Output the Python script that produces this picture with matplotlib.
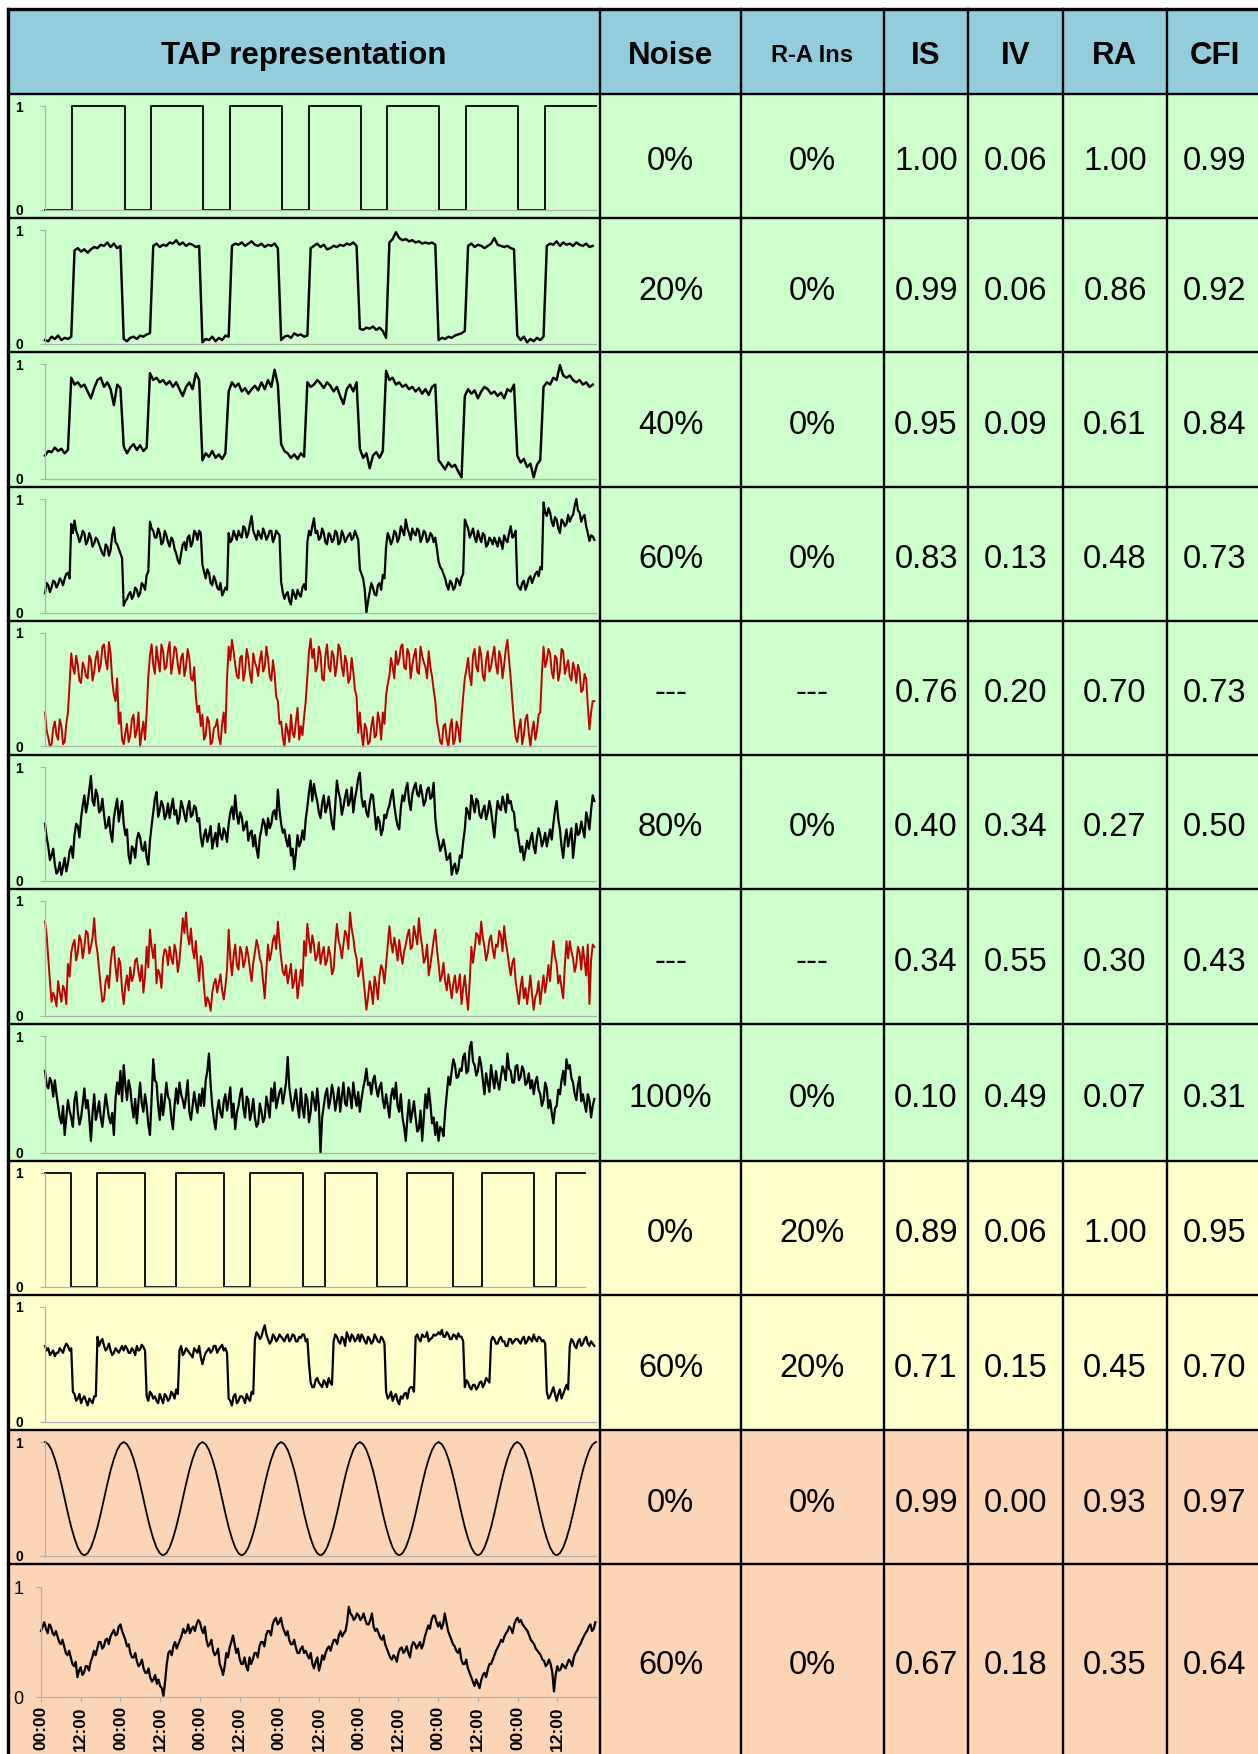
import numpy as np
import matplotlib
matplotlib.use("Agg")
import matplotlib.pyplot as plt
from matplotlib.patches import Rectangle
from matplotlib.lines import Line2D

plt.rcParams['font.family'] = ['Liberation Sans', 'DejaVu Sans']

# Table values
headers = ["TAP representation", "Noise", "R-A Ins", "IS", "IV", "RA", "CFI"]
noise = ["0%", "20%", "40%", "60%", "---", "80%", "---", "100%", "0%", "60%", "0%", "60%"]
ra_ins = ["0%", "0%", "0%", "0%", "---", "0%", "---", "0%", "20%", "20%", "0%", "0%"]
is_vals = [1.00, 0.99, 0.95, 0.83, 0.76, 0.40, 0.34, 0.10, 0.89, 0.71, 0.99, 0.67]
iv_vals = [0.06, 0.06, 0.09, 0.13, 0.20, 0.34, 0.55, 0.49, 0.06, 0.15, 0.00, 0.18]
ra_vals = [1.00, 0.86, 0.61, 0.48, 0.70, 0.27, 0.30, 0.07, 1.00, 0.45, 0.93, 0.35]
cfi_vals = [0.99, 0.92, 0.84, 0.73, 0.73, 0.50, 0.43, 0.31, 0.95, 0.70, 0.97, 0.64]
row_group = ["g", "g", "g", "g", "g", "g", "g", "g", "y", "y", "o", "o"]

# Traces: x in hours over 7 days
square_t = [0, 8.3, 24.3, 32.4, 48.3, 56.4, 72.2, 80.5, 96.3, 104.3, 120.0, 128.5, 144.3, 152.4, 168]
square_v = [0, 1, 0, 1, 0, 1, 0, 1, 0, 1, 0, 1, 0, 1, 1]
ra_square_t = [0, 7.9, 15.8, 30.6, 39.8, 54.6, 62.4, 78.7, 85.5, 101.3, 110.3, 124.5, 133.3, 149.1, 155.9, 164.5]
ra_square_v = [1, 0, 1, 0, 1, 0, 1, 0, 1, 0, 1, 0, 1, 0, 1, 1]
cosine_day = [1.00, 0.98, 0.93, 0.85, 0.75, 0.63, 0.50, 0.37, 0.25, 0.15, 0.07, 0.02,
              0.00, 0.02, 0.07, 0.15, 0.25, 0.37, 0.50, 0.63, 0.75, 0.85, 0.93, 0.98]

# hourly samples (and half-hour samples where the trace is dense), percent of max
trace_n20 = [3, 2, 6, 4, 7, 3, 5, 4, 6, 82, 84, 81, 83, 80, 83, 85, 84, 87, 86, 89, 85, 88, 84, 86,
             4, 2, 5, 6, 4, 7, 6, 8, 9, 86, 88, 85, 87, 86, 89, 88, 91, 87, 89, 86, 88, 87, 85, 86,
             1, 4, 3, 6, 2, 5, 3, 7, 6, 86, 88, 87, 89, 86, 88, 90, 87, 86, 88, 85, 87, 86, 88, 84,
             3, 6, 7, 5, 9, 7, 8, 6, 7, 84, 86, 88, 85, 87, 83, 84, 86, 85, 87, 86, 88, 87, 89, 86,
             13, 12, 14, 13, 15, 12, 14, 11, 5, 89, 92, 98, 93, 91, 92, 90, 91, 89, 90, 88, 89, 88, 89, 87,
             3, 5, 4, 6, 5, 7, 8, 9, 11, 86, 88, 85, 87, 86, 84, 86, 88, 93, 87, 86, 85, 86, 84, 83,
             7, 3, 6, 1, 4, 2, 5, 3, 6, 86, 88, 87, 90, 86, 89, 87, 88, 86, 89, 87, 86, 88, 85, 86]
trace_n40 = [20, 24, 23, 27, 24, 26, 22, 25, 88, 82, 84, 80, 82, 76, 70, 79, 86, 88, 80, 84, 78, 64, 82, 79,
             28, 22, 27, 30, 25, 29, 24, 27, 92, 86, 88, 84, 86, 82, 85, 80, 84, 78, 72, 80, 84, 78, 92, 86,
             16, 22, 19, 24, 18, 21, 17, 22, 76, 84, 80, 83, 76, 79, 74, 78, 81, 77, 84, 78, 86, 80, 95, 82,
             30, 24, 22, 18, 21, 17, 22, 19, 84, 80, 82, 86, 83, 79, 84, 81, 76, 80, 72, 65, 78, 82, 76, 84,
             26, 18, 22, 9, 20, 23, 18, 24, 94, 86, 88, 82, 84, 80, 82, 78, 80, 76, 79, 74, 78, 73, 80, 82,
             16, 12, 8, 14, 10, 12, 6, 1, 72, 78, 74, 77, 70, 76, 80, 78, 74, 76, 72, 75, 70, 78, 76, 82,
             20, 14, 17, 10, 13, 1, 12, 16, 80, 84, 82, 88, 86, 99, 90, 88, 90, 86, 84, 86, 82, 84, 80, 82]
trace_n60 = [17, 24, 22, 27, 25, 28, 30, 35, 78, 81, 68, 66, 70, 63, 66, 61, 64, 56, 50, 58, 55, 75, 60, 52,
             6, 12, 18, 15, 20, 17, 24, 33, 80, 72, 66, 70, 62, 68, 58, 64, 52, 43, 60, 55, 68, 62, 70, 72,
             42, 30, 35, 24, 28, 20, 15, 22, 70, 64, 68, 72, 66, 74, 70, 85, 68, 72, 65, 70, 67, 72, 66, 70,
             27, 12, 18, 7, 16, 20, 14, 25, 62, 68, 83, 72, 66, 70, 60, 68, 64, 70, 62, 68, 65, 70, 66, 68,
             38, 30, 0, 18, 22, 15, 26, 33, 58, 66, 64, 70, 66, 72, 82, 70, 74, 68, 72, 66, 70, 64, 68, 66,
             45, 38, 30, 20, 26, 22, 28, 31, 82, 74, 70, 66, 72, 62, 68, 60, 64, 66, 58, 62, 68, 62, 76, 68,
             25, 20, 28, 24, 32, 30, 36, 40, 97, 85, 88, 76, 82, 70, 80, 78, 80, 86, 100, 88, 84, 76, 63, 67]
trace_n60_half = [26, 18, 28, 22, 30, 24, 34, 30, 70, 72, 62, 72, 60, 70, 58, 66, 60, 52, 60, 50, 68, 62, 56, 48,
                  10, 16, 12, 22, 14, 26, 20, 36, 74, 66, 74, 60, 72, 62, 66, 56, 46, 52, 62, 66, 58, 72, 64, 70,
                  36, 38, 26, 32, 22, 26, 18, 20, 62, 72, 64, 68, 76, 66, 78, 72, 64, 68, 74, 64, 72, 62, 72, 68,
                  18, 16, 10, 20, 12, 16, 22, 20, 72, 76, 70, 64, 74, 62, 70, 62, 72, 60, 72, 62, 68, 64, 72, 64,
                  34, 20, 10, 26, 16, 24, 20, 30, 70, 60, 72, 62, 76, 68, 74, 64, 70, 74, 62, 72, 62, 70, 62, 56,
                  40, 34, 24, 28, 20, 30, 24, 34, 78, 66, 74, 62, 66, 70, 58, 66, 60, 62, 66, 56, 64, 70, 66, 72,
                  22, 26, 20, 30, 26, 34, 32, 38, 88, 92, 80, 84, 74, 82, 76, 86, 84, 94, 90, 80, 86, 70, 68, 64]
trace_red1 = [30, 8, 2, 22, 6, 18, 4, 30, 82, 64, 72, 56, 70, 60, 76, 66, 84, 72, 90, 68, 82, 46, 60, 30,
              2, 20, 10, 28, 14, 0, 22, 30, 80, 72, 88, 66, 84, 70, 92, 74, 86, 64, 82, 70, 78, 58, 44, 36,
              28, 10, 22, 4, 18, 8, 20, 12, 88, 94, 72, 60, 80, 66, 78, 56, 74, 62, 84, 70, 78, 58, 64, 40,
              22, 0, 14, 28, 8, 34, 18, 26, 62, 95, 86, 70, 82, 58, 90, 66, 80, 72, 86, 62, 74, 60, 66, 44,
              30, 0, 16, 4, 26, 10, 22, 30, 45, 62, 70, 84, 76, 90, 68, 82, 72, 86, 64, 80, 70, 84, 62, 40,
              14, 2, 20, 0, 24, 6, 16, 26, 60, 78, 54, 86, 66, 80, 58, 84, 70, 88, 64, 78, 72, 94, 60, 22,
              4, 24, 10, 28, 0, 22, 14, 30, 88, 76, 82, 60, 78, 66, 84, 70, 62, 74, 56, 66, 50, 60, 15, 40]
trace_red1_half = [14, 0, 16, 10, 24, 2, 20, 55, 70, 80, 58, 74, 62, 80, 58, 78, 66, 88, 76, 92, 58, 40, 20, 6,
                   12, 4, 24, 8, 30, 12, 6, 62, 90, 64, 76, 90, 68, 84, 64, 88, 72, 78, 62, 86, 60, 70, 30, 18,
                   6, 26, 2, 16, 24, 2, 30, 60, 76, 84, 62, 78, 58, 86, 64, 82, 70, 76, 66, 88, 62, 76, 44, 20,
                   8, 20, 4, 12, 22, 6, 10, 40, 84, 78, 66, 88, 60, 80, 70, 84, 62, 90, 70, 80, 56, 78, 50, 12,
                   12, 20, 2, 18, 8, 30, 6, 20, 55, 78, 60, 72, 88, 70, 86, 60, 80, 66, 88, 74, 60, 70, 50, 22,
                   4, 18, 6, 16, 2, 22, 4, 44, 68, 62, 80, 70, 88, 62, 76, 66, 80, 72, 84, 60, 86, 76, 40, 8,
                   16, 2, 24, 12, 14, 6, 28, 64, 70, 86, 66, 80, 58, 86, 64, 76, 58, 68, 72, 48, 64, 36, 30, 40]
trace_n80 = [50, 30, 22, 14, 8, 5, 20, 15, 30, 40, 48, 55, 75, 68, 92, 66, 75, 62, 58, 48, 42, 55, 72, 62,
             50, 45, 15, 28, 36, 38, 26, 20, 35, 60, 78, 62, 66, 58, 55, 72, 62, 55, 65, 52, 70, 58, 64, 55,
             30, 45, 40, 28, 42, 50, 36, 42, 50, 65, 75, 50, 56, 48, 35, 44, 40, 20, 45, 50, 55, 50, 62, 80,
             50, 45, 30, 22, 10, 40, 34, 36, 65, 88, 85, 70, 55, 75, 65, 62, 45, 88, 72, 65, 80, 70, 60, 80,
             95, 65, 60, 68, 75, 45, 52, 45, 55, 66, 80, 56, 45, 75, 80, 70, 76, 86, 74, 76, 70, 82, 74, 55,
             35, 30, 28, 20, 5, 15, 10, 20, 45, 60, 75, 60, 70, 55, 66, 60, 62, 38, 70, 62, 68, 76, 70, 60,
             45, 25, 18, 35, 36, 30, 38, 40, 35, 30, 45, 50, 70, 45, 20, 45, 38, 20, 50, 42, 45, 60, 45, 75]
trace_n80_half = [38, 18, 28, 6, 16, 12, 8, 26, 20, 50, 38, 66, 60, 80, 70, 80, 60, 72, 46, 56, 34, 64, 52, 70,
                  40, 22, 30, 20, 42, 28, 34, 14, 48, 72, 56, 70, 54, 68, 64, 58, 50, 70, 58, 64, 56, 66, 52, 38,
                  40, 34, 48, 36, 30, 40, 46, 34, 60, 54, 58, 60, 44, 52, 42, 30, 28, 38, 54, 40, 46, 60, 54, 62,
                  42, 36, 40, 28, 24, 30, 44, 54, 78, 70, 76, 60, 68, 60, 74, 50, 66, 78, 58, 74, 66, 82, 72, 90,
                  74, 70, 56, 76, 60, 56, 40, 58, 62, 74, 66, 48, 64, 70, 86, 62, 82, 76, 84, 66, 80, 72, 86, 42,
                  26, 36, 18, 24, 12, 6, 22, 34, 64, 54, 68, 72, 58, 62, 54, 70, 50, 56, 64, 74, 60, 68, 62, 44,
                  34, 30, 26, 28, 42, 24, 46, 30, 42, 38, 36, 62, 54, 30, 36, 30, 46, 34, 40, 52, 38, 54, 62, 70]
trace_red2 = [82, 50, 12, 16, 30, 12, 22, 45, 55, 66, 55, 65, 60, 72, 60, 85, 55, 25, 14, 35, 45, 60, 30, 45,
              10, 35, 42, 35, 50, 30, 20, 60, 75, 50, 28, 36, 50, 56, 60, 45, 55, 48, 85, 90, 62, 58, 65, 30,
              45, 8, 12, 20, 32, 28, 22, 25, 75, 35, 62, 40, 55, 48, 52, 30, 55, 60, 45, 15, 62, 55, 70, 82,
              50, 35, 28, 45, 30, 15, 40, 65, 80, 55, 62, 52, 45, 60, 48, 52, 40, 80, 60, 62, 70, 90, 68, 50,
              40, 35, 5, 30, 10, 26, 35, 40, 45, 78, 55, 60, 66, 45, 62, 75, 60, 70, 85, 60, 50, 35, 55, 75,
              45, 35, 30, 36, 15, 35, 25, 10, 35, 5, 60, 58, 70, 82, 60, 55, 70, 50, 60, 70, 78, 55, 35, 50,
              20, 25, 15, 10, 35, 5, 20, 10, 35, 30, 30, 65, 45, 35, 15, 65, 65, 50, 45, 55, 60, 35, 10, 62]
trace_red2_half = [70, 30, 20, 8, 20, 26, 10, 34, 62, 48, 70, 50, 74, 54, 68, 64, 40, 12, 30, 24, 58, 42, 50, 22,
                   26, 22, 30, 48, 38, 44, 34, 42, 60, 62, 40, 24, 58, 44, 50, 62, 38, 66, 72, 70, 76, 50, 44, 52,
                   24, 16, 4, 28, 20, 36, 14, 40, 50, 52, 44, 60, 42, 60, 40, 46, 66, 50, 30, 40, 48, 66, 58, 64,
                   38, 44, 36, 24, 40, 28, 26, 52, 66, 70, 48, 64, 54, 44, 60, 36, 62, 66, 50, 74, 58, 76, 56, 34,
                   50, 20, 16, 22, 34, 14, 44, 28, 62, 64, 68, 48, 54, 56, 70, 58, 78, 62, 70, 46, 62, 44, 66, 58,
                   30, 46, 22, 26, 28, 20, 36, 24, 18, 30, 46, 72, 62, 68, 48, 66, 58, 62, 74, 56, 64, 44, 46, 30,
                   10, 34, 24, 22, 18, 16, 30, 24, 20, 44, 50, 52, 28, 24, 44, 50, 56, 38, 60, 40, 48, 62, 48, 60]
trace_n100 = [70, 55, 60, 62, 40, 25, 15, 45, 30, 45, 35, 30, 55, 45, 10, 50, 35, 30, 36, 40, 25, 15, 60, 70,
              75, 45, 55, 30, 25, 60, 35, 40, 15, 80, 60, 28, 32, 60, 45, 20, 55, 60, 45, 48, 35, 40, 42, 50,
              55, 62, 85, 40, 20, 45, 30, 50, 45, 30, 20, 40, 55, 30, 45, 35, 30, 25, 35, 30, 40, 55, 60, 45,
              55, 50, 82, 45, 45, 40, 55, 30, 45, 35, 45, 55, 0, 40, 55, 45, 50, 45, 35, 60, 40, 50, 60, 40,
              35, 55, 72, 60, 62, 55, 56, 45, 50, 30, 55, 60, 35, 30, 10, 45, 35, 30, 20, 10, 50, 55, 25, 15,
              10, 20, 35, 65, 70, 75, 65, 70, 85, 70, 95, 75, 70, 75, 50, 60, 75, 55, 60, 65, 70, 85, 70, 60,
              75, 65, 70, 60, 55, 50, 65, 50, 45, 55, 45, 25, 40, 50, 70, 80, 75, 60, 45, 65, 50, 35, 45, 40]
trace_n100_half = [58, 64, 48, 50, 30, 40, 30, 36, 22, 52, 24, 42, 38, 30, 34, 28, 44, 22, 50, 30, 34, 46, 50, 44,
                   58, 62, 40, 46, 44, 42, 50, 24, 46, 62, 40, 50, 44, 48, 30, 40, 42, 50, 38, 62, 28, 52, 34, 40,
                   40, 70, 58, 28, 36, 34, 44, 36, 56, 42, 34, 50, 38, 48, 28, 46, 22, 42, 26, 48, 30, 44, 38, 52,
                   42, 60, 56, 36, 54, 30, 38, 50, 26, 52, 36, 40, 30, 50, 38, 58, 36, 56, 48, 42, 56, 38, 48, 52,
                   46, 62, 58, 50, 66, 48, 60, 38, 40, 48, 46, 40, 50, 22, 30, 26, 44, 18, 36, 30, 38, 42, 30, 26,
                   22, 14, 50, 58, 80, 64, 72, 82, 68, 90, 78, 66, 82, 62, 68, 52, 64, 70, 54, 74, 62, 72, 60, 74,
                   62, 74, 58, 68, 62, 60, 54, 40, 60, 38, 34, 38, 54, 62, 58, 72, 64, 50, 58, 44, 42, 50, 30, 46]
trace_ra60 = [66, 64, 60, 57, 60, 62, 65, 66, 64, 24, 20, 16, 22, 14, 18, 22, 74, 70, 66, 64, 62, 60, 62, 63,
              62, 64, 60, 62, 66, 63, 65, 22, 26, 20, 18, 24, 16, 22, 20, 24, 28, 62, 58, 64, 60, 56, 62, 66,
              50, 60, 64, 62, 66, 63, 67, 64, 20, 14, 24, 18, 22, 16, 20, 26, 72, 76, 74, 84, 72, 70, 74, 72,
              74, 70, 76, 72, 75, 70, 73, 76, 72, 34, 30, 38, 32, 36, 30, 34, 70, 74, 68, 72, 78, 70, 74, 72,
              70, 74, 68, 72, 70, 73, 69, 72, 26, 22, 18, 24, 15, 20, 25, 28, 30, 74, 72, 76, 74, 70, 73, 75,
              78, 80, 74, 76, 72, 75, 77, 74, 30, 34, 28, 32, 30, 35, 33, 36, 70, 72, 68, 74, 70, 66, 72, 70,
              72, 68, 74, 70, 72, 76, 70, 73, 71, 26, 22, 30, 18, 28, 24, 32, 66, 70, 64, 72, 68, 74, 66, 68]
trace_ra60_half = [62, 58, 62, 60, 64, 60, 68, 62, 26, 18, 24, 20, 18, 20, 16, 22, 66, 72, 62, 68, 58, 64, 60, 66,
                   66, 60, 64, 58, 62, 67, 62, 18, 24, 22, 16, 20, 24, 18, 26, 20, 24, 66, 60, 62, 58, 64, 60, 56,
                   56, 62, 60, 66, 60, 65, 62, 60, 18, 22, 16, 22, 20, 24, 18, 24, 78, 72, 80, 76, 68, 76, 70, 76,
                   72, 74, 70, 76, 70, 74, 76, 70, 50, 30, 36, 34, 30, 34, 38, 32, 76, 70, 74, 66, 74, 76, 70, 76,
                   76, 70, 74, 68, 76, 70, 74, 68, 20, 26, 22, 18, 22, 24, 20, 30, 26, 76, 70, 74, 78, 72, 76, 76,
                   76, 74, 78, 72, 76, 72, 74, 70, 36, 30, 32, 28, 34, 30, 38, 34, 74, 68, 72, 70, 66, 72, 68, 72,
                   70, 72, 68, 74, 70, 72, 74, 70, 68, 20, 26, 24, 24, 20, 28, 28, 72, 66, 70, 66, 72, 68, 70, 66]
trace_cos60 = [60, 68, 58, 64, 56, 55, 48, 46, 38, 36, 28, 18, 27, 22, 28, 32, 42, 44, 50, 46, 53, 55, 61, 57,
               66, 56, 46, 40, 36, 32, 30, 26, 22, 18, 16, 12, 10, 1, 30, 42, 46, 44, 52, 62, 60, 58, 64, 66,
               68, 58, 52, 48, 42, 40, 30, 20, 40, 45, 56, 40, 35, 30, 28, 36, 34, 40, 46, 50, 56, 60, 66, 72,
               68, 64, 56, 52, 48, 45, 40, 46, 42, 35, 30, 32, 24, 38, 40, 46, 48, 52, 56, 55, 60, 82, 74, 72,
               74, 72, 70, 66, 76, 60, 58, 52, 48, 40, 34, 36, 40, 45, 42, 40, 46, 48, 47, 44, 55, 65, 70, 74,
               64, 62, 76, 60, 52, 46, 40, 34, 30, 26, 18, 10, 12, 15, 22, 25, 30, 38, 45, 52, 55, 60, 62, 66,
               72, 70, 64, 60, 52, 48, 42, 38, 33, 30, 30, 5, 28, 25, 28, 30, 32, 36, 42, 48, 55, 60, 66, 62]
trace_cos60_half = [64, 62, 66, 58, 60, 50, 52, 40, 42, 30, 32, 24, 20, 28, 24, 36, 38, 50, 44, 52, 48, 58, 56, 64,
                    60, 52, 48, 36, 40, 28, 34, 22, 26, 14, 20, 16, 8, 14, 40, 38, 50, 48, 56, 58, 66, 62, 60, 70,
                    62, 64, 46, 52, 38, 44, 26, 28, 36, 50, 48, 44, 30, 36, 24, 30, 40, 36, 50, 46, 60, 56, 70, 66,
                    72, 60, 60, 48, 52, 40, 44, 40, 38, 40, 26, 36, 30, 34, 44, 42, 52, 48, 60, 58, 68, 76, 70, 76,
                    70, 76, 66, 70, 64, 62, 54, 56, 44, 36, 38, 32, 44, 40, 46, 36, 50, 44, 50, 48, 60, 62, 74, 68,
                    68, 66, 68, 56, 48, 42, 44, 30, 34, 22, 14, 16, 8, 20, 18, 30, 34, 42, 48, 50, 58, 64, 58, 70,
                    68, 66, 62, 56, 50, 44, 40, 34, 28, 34, 22, 20, 24, 30, 26, 34, 28, 40, 46, 52, 58, 64, 60, 68]

# Layout (pixels)
W, H = 1258, 1754
col_edges = [8, 600, 741, 884, 968, 1063, 1167]
col_centers = [304, 670.5, 812.5, 926, 1015.5, 1115, 1215]
row_edges = [9, 94, 218, 352, 487, 621, 755, 889, 1024, 1161, 1295, 1430, 1564, 1754]
group_color = {"g": "#ccffcc", "y": "#ffffcc", "o": "#fbd5b5"}
header_color = "#93cddd"
gray = "#b0b0b0"
red = "#c00000"


def fx(x):
    return x / W


def fy(y):
    return 1 - y / H


def merge(hourly, half):
    # interleave on-the-hour and half-hour samples
    return np.arange(0, 168, 0.5), np.column_stack([hourly, half]).ravel() / 100


fig = plt.figure(figsize=(W / 100, H / 100), dpi=100)

# Cell backgrounds
fig.add_artist(Rectangle((fx(8), fy(94)), 1 - fx(8), (94 - 9) / H, transform=fig.transFigure,
                         facecolor=header_color, edgecolor="none", zorder=-2))
for i, g in enumerate(row_group):
    top, bot = row_edges[i + 1], row_edges[i + 2]
    fig.add_artist(Rectangle((fx(8), fy(bot)), 1 - fx(8), (bot - top) / H, transform=fig.transFigure,
                             facecolor=group_color[g], edgecolor="none", zorder=-2))

# Header texts
for j, h in enumerate(headers):
    size = 17 if h == "R-A Ins" else 22.5
    fig.text(fx(col_centers[j]), fy(56), h, ha="center", va="center", fontsize=size,
             fontweight="bold", zorder=4)

# Cell texts
for i in range(len(noise)):
    cy = fy((row_edges[i + 1] + row_edges[i + 2]) / 2 + 6)
    cells = [noise[i], ra_ins[i], "%.2f" % is_vals[i], "%.2f" % iv_vals[i],
             "%.2f" % ra_vals[i], "%.2f" % cfi_vals[i]]
    for j, txt in enumerate(cells):
        fig.text(fx(col_centers[j + 1]), cy, txt, ha="center", va="center", fontsize=23.5, zorder=4)

# Trace rows
hours = np.arange(168)
cos_t = np.arange(169)
cos_v = np.append(np.tile(cosine_day, 7), cosine_day[0])
rows = [
    (square_t, square_v, "k", True),
    (hours, np.array(trace_n20) / 100, "k", False),
    (hours, np.array(trace_n40) / 100, "k", False),
    (*merge(trace_n60, trace_n60_half), "k", False),
    (*merge(trace_red1, trace_red1_half), red, False),
    (*merge(trace_n80, trace_n80_half), "k", False),
    (*merge(trace_red2, trace_red2_half), red, False),
    (*merge(trace_n100, trace_n100_half), "k", False),
    (ra_square_t, ra_square_v, "k", True),
    (*merge(trace_ra60, trace_ra60_half), "k", False),
    (cos_t, cos_v, "k", False),
    (*merge(trace_cos60, trace_cos60_half), "k", False),
]
line_w = [1.3, 1.75, 1.75, 1.6, 1.4, 1.6, 1.4, 1.6, 1.3, 1.6, 1.3, 1.6]

for i, (t, v, color, step) in enumerate(rows):
    top, bot = row_edges[i + 1], row_edges[i + 2]
    last = i == len(rows) - 1
    if last:
        x0, x1, y1, y0 = 41, 597, 1587, 1697
    else:
        x0, x1, y1, y0 = 45, 596, top + 12, bot - 8.5
    ax = fig.add_axes([fx(x0), fy(y0), fx(x1) - fx(x0), (y0 - y1) / H])
    ax.set_facecolor("none")
    if step:
        ax.step(t, v, where="post", color=color, lw=line_w[i], clip_on=False)
    else:
        ax.plot(t, v, color=color, lw=line_w[i], clip_on=False)
    ax.set_xlim(0, 168)
    ax.set_ylim(0, 1)
    for s in ["top", "right"]:
        ax.spines[s].set_visible(False)
    for s in ["left", "bottom"]:
        ax.spines[s].set_color(gray)
        ax.spines[s].set_linewidth(0.9)
    if i == 8:
        ax.spines["bottom"].set_bounds(0, 164.5)
    ax.set_yticks([0, 1])
    if last:
        ax.set_yticklabels(["0", "1"], fontsize=13)
        ax.tick_params(axis="y", length=3.6, width=0.8, color=gray, pad=9)
        ticks = np.arange(0, 168, 12)
        ax.set_xticks(ticks)
        ax.set_xticklabels(["00:00" if k % 2 == 0 else "12:00" for k in range(len(ticks))],
                           rotation=90, fontsize=12.5, fontweight="bold", va="top")
        ax.tick_params(axis="x", length=3.6, width=0.8, color=gray, pad=3)
    else:
        ax.set_yticklabels(["0", "1"], fontsize=10, fontweight="bold")
        ax.tick_params(axis="y", length=3.6, width=0.8, color=gray, pad=12)
        ax.set_xticks([])

# Grid lines
for x in col_edges:
    lw = 2.4 if x == col_edges[0] else 1.7
    fig.add_artist(Line2D([fx(x), fx(x)], [fy(9), 0], transform=fig.transFigure,
                          color="k", lw=lw, zorder=5))
for y in row_edges[:-1]:
    lw = 2.4 if y == row_edges[0] else 1.7
    fig.add_artist(Line2D([fx(8), 1], [fy(y), fy(y)], transform=fig.transFigure,
                          color="k", lw=lw, zorder=5))

fig.savefig("out.png", dpi=100)
